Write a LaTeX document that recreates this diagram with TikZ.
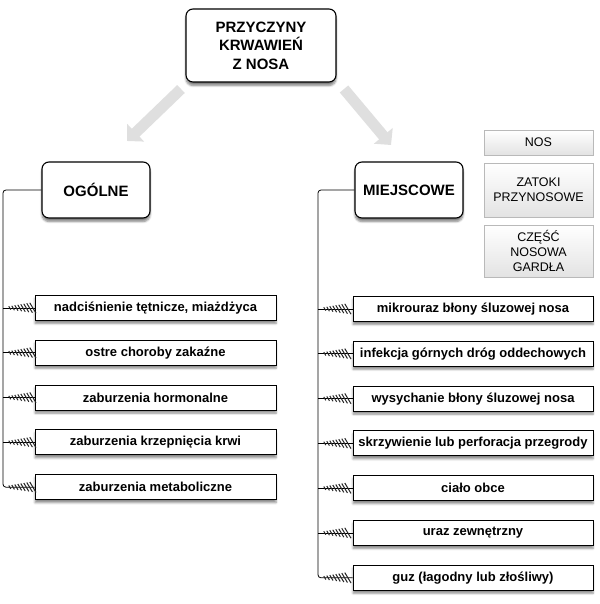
\documentclass[tikz,border=0pt]{standalone}
\usepackage{fontspec}
\setmainfont{Liberation Sans}
\usetikzlibrary{arrows.meta,shadows.blur}

\begin{document}
\begin{tikzpicture}[x=1pt,y=-1pt,
  head/.style={draw,line width=1.1pt,rounded corners=7pt,fill=white,align=center,
    font=\fontsize{15}{18.5}\selectfont\bfseries,
    blur shadow={shadow xshift=0pt,shadow yshift=-3.5pt,shadow blur steps=6,shadow opacity=50}},
  cause/.style={draw,line width=0.9pt,fill=white,minimum height=25pt,inner sep=0pt,
    font=\fontsize{13}{15}\selectfont\bfseries,
    blur shadow={shadow xshift=0pt,shadow yshift=-3pt,shadow blur steps=5,shadow opacity=45}},
  part/.style={draw=gray!55,line width=0.8pt,top color=white,bottom color=gray!22,
    minimum width=109pt,inner sep=0pt,align=center,font=\fontsize{12.5}{14.7}\selectfont},
  trunk/.style={line width=0.8pt},
  bigarrow/.style={line width=11pt,draw=gray!25,-{Triangle[length=12pt,width=24pt]}}]
\useasboundingbox (0,0) rectangle (599,604);

% main boxes
\node[head,minimum width=150pt,minimum height=73pt] (root) at (261,45.5) {PRZYCZYNY\\KRWAWIEŃ\\Z NOSA};
\node[head,minimum width=108pt,minimum height=56pt] (og) at (96,190) {OGÓLNE};
\node[head,minimum width=108pt,minimum height=56pt] (mi) at (409,190) {MIEJSCOWE};

% gray arrows
\coordinate (las) at (181,89);
\coordinate (lae) at (127,141);
\coordinate (ras) at (344,89);
\coordinate (rae) at (391,145);
\draw[bigarrow] (las) -- (lae);
\draw[bigarrow] (ras) -- (rae);

% parts of the nose
\node[part,minimum height=25pt] (nos) at (538.5,142.5) {NOS};
\node[part,minimum height=54pt] (zat) at (538.5,190) {ZATOKI\\PRZYNOSOWE};
\node[part,minimum height=52pt] (gar) at (538.5,251) {CZĘŚĆ\\NOSOWA\\GARDŁA};

% general causes
\foreach \t [count=\i] in {nadciśnienie tętnicze{,} miażdżyca,ostre choroby zakaźne,
    zaburzenia hormonalne,zaburzenia krzepnięcia krwi,zaburzenia metaboliczne}
  \node[cause,minimum width=241pt] (l\i) at (155.5,{308+44.8*(\i-1)}) {\t};

% local causes
\foreach \t [count=\i] in {mikrouraz błony śluzowej nosa,infekcja górnych dróg oddechowych,
    wysychanie błony śluzowej nosa,skrzywienie lub perforacja przegrody,ciało obce,
    uraz zewnętrzny,guz (łagodny lub złośliwy)}
  \node[cause,minimum width=240pt] (r\i) at (473,{309+44.8*(\i-1)}) {\t};

% trunks
\coordinate (lt) at (3,0);
\coordinate (rt) at (318,0);
\draw[trunk,rounded corners=3pt] (og.west) -| (lt |- l5.west) -- (l5.west);
\draw[trunk,rounded corners=3pt] (mi.west) -| (rt |- r7.west) -- (r7.west);
\foreach \i in {1,...,4}
  \draw[trunk] (lt |- l\i.west) -- (l\i.west);
\foreach \i in {1,...,6}
  \draw[trunk] (rt |- r\i.west) -- (r\i.west);

% hatched ends
\foreach \s/\n in {lt/l1,lt/l2,lt/l3,lt/l4,lt/l5,rt/r1,rt/r2,rt/r3,rt/r4,rt/r5,rt/r6,rt/r7}
  \foreach \k in {1,...,8}
    \draw[line width=1pt,black!85]
      ([xshift={3.5pt+3.3pt*\k-0.6pt*(1.2+0.5*\k)},yshift={1pt*(1.2+0.5*\k)}]\s |- \n.west) --
      ([xshift={3.5pt+3.3pt*\k+0.6pt*(1.2+0.5*\k)},yshift={-1pt*(1.2+0.5*\k)}]\s |- \n.west);
\end{tikzpicture}
\end{document}
